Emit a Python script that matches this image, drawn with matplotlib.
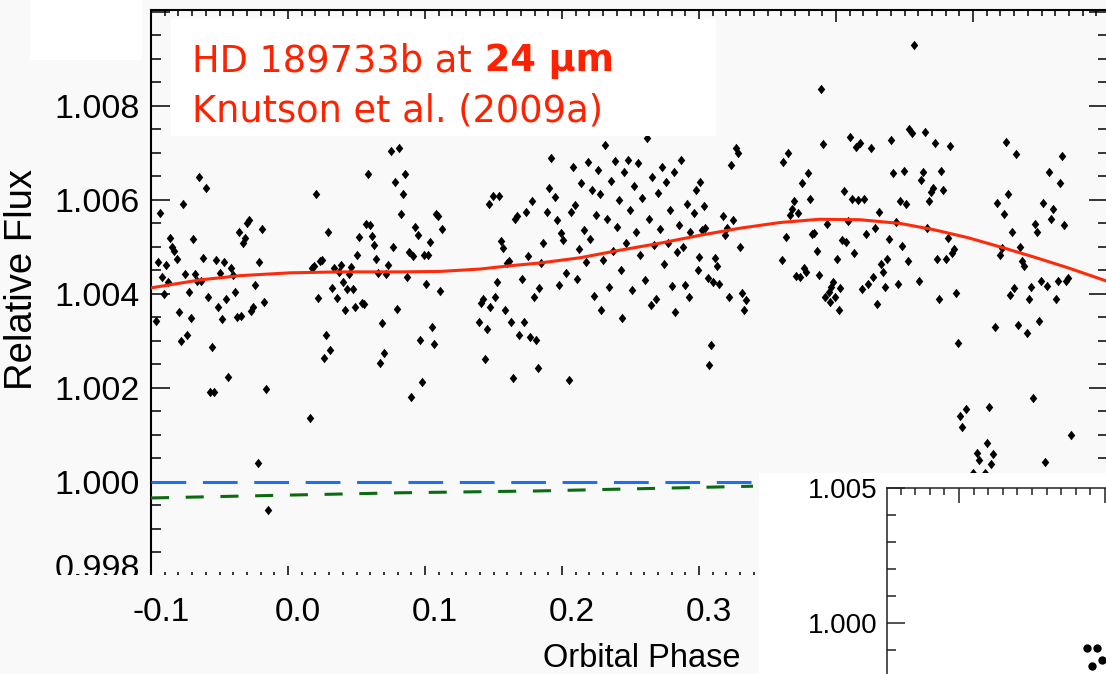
import matplotlib
matplotlib.use("Agg")
import numpy as np
import matplotlib.pyplot as plt
from matplotlib.patches import Rectangle
from matplotlib.ticker import MultipleLocator, FormatStrFormatter
import matplotlib.transforms as mtransforms

# ---------------- data (orbital phase, relative flux) ----------------
phase_a1 = [-0.0964,-0.0949,-0.0934,-0.0920,-0.0905,-0.0891,-0.0876,-0.0861,-0.0847,-0.0832,
            -0.0810,-0.0796,-0.0781,-0.0766,-0.0752,-0.0737,-0.0723,-0.0708,-0.0693,-0.0679,
            -0.0664,-0.0650,-0.0635,-0.0620,-0.0599,-0.0584,-0.0569,-0.0555,-0.0540,-0.0526,
            -0.0511,-0.0496,-0.0482,-0.0467,-0.0453,-0.0438,-0.0416,-0.0401,-0.0387,-0.0372,
            -0.0358,-0.0343,-0.0328,-0.0314,-0.0299,-0.0285,-0.0270,-0.0255,-0.0241,-0.0212,
            -0.0190,-0.0175,-0.0161,-0.0219,-0.0146]
flux_a1 = [1.00341,1.00467,1.00571,1.00435,1.00399,1.00461,1.00424,1.00518,1.00499,1.00490,
           1.00473,1.00361,1.00299,1.00590,1.00441,1.00312,1.00403,1.00348,1.00516,1.00441,
           1.00427,1.00648,1.00427,1.00476,1.00624,1.00393,1.00190,1.00286,1.00190,1.00471,
           1.00371,1.00444,1.00346,1.00467,1.00388,1.00222,1.00454,1.00439,1.00403,1.00350,
           1.00531,1.00352,1.00507,1.00518,1.00550,1.00556,1.00363,1.00371,1.00418,1.00467,
           1.00537,1.00382,1.00197,1.00039,0.99939]

phase_a2 = [0.0161,0.0175,0.0190,0.0204,0.0219,0.0234,0.0248,0.0263,0.0277,0.0292,
            0.0307,0.0321,0.0336,0.0358,0.0372,0.0387,0.0401,0.0416,0.0431,0.0445,
            0.0460,0.0474,0.0489,0.0504,0.0518,0.0540,0.0555,0.0569,0.0584,0.0599,
            0.0613,0.0628,0.0642,0.0657,0.0672,0.0686,0.0701,0.0715,0.0730,0.0752,
            0.0766,0.0781,0.0796,0.0810,0.0825,0.0839,0.0854,0.0869,0.0883,0.0898,
            0.0912,0.0927,0.0949,0.0964,0.0978,0.0993,0.1007,0.1022,0.1036,0.1051,
            0.1066,0.1080,0.1095,0.1109,0.1124]
flux_a2 = [1.00135,1.00454,1.00459,1.00612,1.00390,1.00469,1.00471,1.00263,1.00312,1.00531,
           1.00280,1.00412,1.00454,1.00390,1.00446,1.00461,1.00424,1.00365,1.00410,1.00441,
           1.00456,1.00410,1.00371,1.00482,1.00520,1.00380,1.00378,1.00548,1.00654,1.00546,
           1.00522,1.00503,1.00473,1.00444,1.00252,1.00337,1.00273,1.00441,1.00461,1.00703,
           1.00499,1.00637,1.00367,1.00710,1.00569,1.00612,1.00654,1.00435,1.00488,1.00180,
           1.00480,1.00541,1.00524,1.00301,1.00212,1.00482,1.00420,1.00482,1.00510,1.00329,
           1.00293,1.00569,1.00565,1.00405,1.00537]

phase_a3 = [0.1394,0.1409,0.1423,0.1438,0.1453,0.1467,0.1474,0.1496,0.1511,0.1526,
            0.1540,0.1555,0.1569,0.1584,0.1599,0.1613,0.1628,0.1642,0.1657,0.1672,
            0.1686,0.1708,0.1723,0.1737,0.1752,0.1766,0.1781,0.1796,0.1810,0.1825,
            0.1832]
flux_a3 = [1.00339,1.00380,1.00388,1.00261,1.00324,1.00590,1.00371,1.00607,1.00393,1.00424,
           1.00607,1.00512,1.00497,1.00365,1.00465,1.00469,1.00339,1.00220,1.00559,1.00565,
           1.00312,1.00431,1.00339,1.00573,1.00480,1.00307,1.00597,1.00393,1.00301,1.00241,
           1.00412]

phase_g = [0.1847,0.1861,0.1891,0.1905,0.1920,0.1949,0.1964,0.1978,0.1993,0.2007,
           0.2029,0.2051,0.2066,0.2080,0.2095,0.2109,0.2124,0.2139,0.2161,0.2175,
           0.2190,0.2204,0.2219,0.2234,0.2248,0.2263,0.2277,0.2285,0.2299,0.2314,
           0.2328,0.2343,0.2358,0.2372,0.2387,0.2401,0.2416,0.2431,0.2438,0.2453,
           0.2467,0.2482,0.2496,0.2511,0.2526,0.2540,0.2555,0.2569,0.2584,0.2606,
           0.2620,0.2635,0.2650,0.2657,0.2672,0.2686,0.2701,0.2715,0.2730,0.2745,
           0.2759,0.2774,0.2788,0.2803,0.2818,0.2825,0.2839,0.2854,0.2869,0.2883,
           0.2898,0.2912,0.2927,0.2934,0.2964,0.2978,0.2993]
flux_g = [1.00465,1.00507,1.00573,1.00624,1.00688,1.00605,1.00556,1.00418,1.00529,1.00514,
          1.00444,1.00216,1.00573,1.00669,1.00588,1.00431,1.00495,1.00635,1.00535,1.00467,
          1.00680,1.00516,1.00620,1.00395,1.00567,1.00663,1.00612,1.00365,1.00471,1.00716,
          1.00559,1.00414,1.00639,1.00490,1.00682,1.00541,1.00599,1.00450,1.00348,1.00659,
          1.00507,1.00684,1.00578,1.00407,1.00629,1.00531,1.00678,1.00482,1.00603,1.00429,
          1.00731,1.00559,1.00376,1.00648,1.00503,1.00388,1.00614,1.00537,1.00669,1.00463,
          1.00637,1.00507,1.00578,1.00416,1.00659,1.00361,1.00488,1.00546,1.00684,1.00499,
          1.00418,1.00590,1.00393,1.00531,1.00571,1.00620,1.00450]

phase_c = [0.3007,0.3036,0.3022,0.3044,0.2999,0.3066,0.3102,0.3117,0.3131,0.3146,
           0.3175,0.3190,0.3204,0.3219,0.3234,0.3248,0.3270,0.3285,0.3299,0.3314]
flux_c = [1.00637,1.00586,1.00535,1.00539,1.00478,1.00433,1.00424,1.00476,1.00459,1.00420,
          1.00565,1.00524,1.00539,1.00393,1.00673,1.00556,1.00710,1.00699,1.00499,1.00401]

phase_h = [0.3073,0.3088,0.3328,0.3343,0.3956,0.4022]
flux_h = [1.00248,1.00290,1.00365,1.00386,1.00382,1.00365]

phase_d = [0.3606,0.3613,0.3635,0.3650,0.3664,0.3679,0.3693,0.3708,0.3723,0.3737,
           0.3752,0.3766,0.3781,0.3796,0.3810,0.3825,0.3839,0.3861,0.3876,0.3891,
           0.3905,0.3920,0.3934,0.3949,0.3964,0.3978,0.3993,0.4007,0.4029,0.4044,
           0.4058,0.4073,0.4088,0.4102,0.4117,0.4131,0.4146,0.4161,0.4175,0.4190,
           0.4204,0.4219,0.4234,0.4255,0.4270,0.4285,0.4299,0.4314,0.4328,0.4343,
           0.4358,0.4372,0.4387,0.4401,0.4416,0.4438,0.4453,0.4467,0.4482,0.4496,
           0.4511,0.4526,0.4533,0.4555,0.4569,0.4606,0.4620,0.4635,0.4650,0.4664,
           0.4679,0.4693,0.4708,0.4723,0.4737,0.4752,0.4766,0.4781,0.4803,0.4818,
           0.4832,0.4847,0.4861,0.4876,0.4891,0.4905,0.4920,0.4949]
flux_d = [1.00471,1.00680,1.00520,1.00699,1.00567,1.00580,1.00597,1.00437,1.00571,1.00435,
          1.00635,1.00454,1.00446,1.00656,1.00601,1.00527,1.00529,1.00490,1.00439,1.00835,
          1.00718,1.00393,1.00548,1.00403,1.00414,1.00424,1.00393,1.00473,1.00412,1.00514,
          1.00618,1.00510,1.00554,1.00733,1.00601,1.00486,1.00712,1.00599,1.00720,1.00410,
          1.00601,1.00527,1.00420,1.00710,1.00435,1.00539,1.00378,1.00573,1.00463,1.00446,
          1.00414,1.00473,1.00516,1.00727,1.00656,1.00552,1.00420,1.00597,1.00501,1.00661,
          1.00590,1.00469,1.00750,1.00741,1.00929,1.00427,1.00641,1.00659,1.00744,1.00539,
          1.00597,1.00616,1.00624,1.00720,1.00473,1.00388,1.00661,1.00620,1.00473,1.00518,
          1.00714,1.00486,1.00495,1.00401,1.00295,1.00139,1.00116,1.00154]

phase_e = [0.5000,0.5029,0.5044,0.5088,0.5102,0.5117,0.5131,0.5146,0.5161,0.5328,
           0.5394,0.5438,0.5482,0.5526,0.5715]
flux_e = [1.00018,1.00061,1.00046,1.00018,1.00082,1.00159,1.00037,1.00059,1.00329,1.00333,
          1.00316,1.00178,1.00341,1.00041,1.00099]

phase_f = [0.5175,0.5197,0.5212,0.5226,0.5241,0.5255,0.5270,0.5285,0.5299,0.5314,
           0.5343,0.5358,0.5372,0.5409,0.5423,0.5453,0.5467,0.5496,0.5511,0.5540,
           0.5555,0.5569,0.5584,0.5606,0.5620,0.5635,0.5650,0.5664,0.5679,0.5693]
flux_f = [1.00593,1.00482,1.00497,1.00569,1.00722,1.00612,1.00397,1.00531,1.00412,1.00697,
          1.00499,1.00469,1.00459,1.00388,1.00414,1.00548,1.00531,1.00427,1.00593,1.00416,
          1.00659,1.00559,1.00580,1.00388,1.00427,1.00635,1.00693,1.00546,1.00427,1.00433]

# model phase curve (red), stellar flux (blue), green dashed component
curve_phase = [-0.100,-0.064,-0.035,0.0015,0.038,0.082,0.111,0.140,0.162,0.184,0.213,
               0.242,0.2715,0.301,0.330,0.359,0.388,0.4175,0.447,0.471,0.496,0.520,
               0.544,0.569,0.598]
curve_flux = [1.00412,1.00429,1.00438,1.00444,1.00446,1.00446,1.00447,1.00452,1.00459,
              1.00465,1.00476,1.00492,1.00507,1.00524,1.00539,1.00551,1.00558,1.00557,
              1.00549,1.00536,1.00519,1.00499,1.00478,1.00455,1.00426]
star_phase = [-0.100, 0.598]
star_flux = [1.00000, 1.00000]
green_phase = [-0.100, 0.0818, 0.1839, 0.3394]
green_flux = [0.99965, 0.99976, 0.99980, 0.99990]

# inset (zoom of eclipse)
inset_phase = [0.4877, 0.4945, 0.4911, 0.4979]
inset_flux = [0.99907, 0.99907, 0.99841, 0.99863]

x_ticklabels_fmt = "%.1f"
y_ticklabels_fmt = "%.3f"
title_line1 = "HD 189733b at"
title_bold = " 24 \u00b5m"
title_line2 = "Knutson et al. (2009a)"
xlabel = "Orbital Phase"
ylabel = "Relative Flux"

# ---------------- figure ----------------
plt.rcParams['font.family'] = ['Liberation Sans', 'DejaVu Sans']
plt.rcParams['lines.scale_dashes'] = False
W, H = 1106, 674
BG = '#f9f9f9'
fig = plt.figure(figsize=(W / 100, H / 100), dpi=100, facecolor=BG)


def fx(x):
    return x / W


def fy(y):
    return 1 - y / H


ax = fig.add_axes([fx(151), fy(578), fx(1108) - fx(151), fy(10) - fy(578)])
ax.set_facecolor(BG)
ax.set_xlim(-0.1, 0.5985)
ax.set_ylim(0.997947, 1.010032)

phase = np.concatenate([phase_a1, phase_a2, phase_a3, phase_g, phase_c, phase_h,
                        phase_d, phase_e, phase_f])
flux = np.concatenate([flux_a1, flux_a2, flux_a3, flux_g, flux_c, flux_h,
                       flux_d, flux_e, flux_f])
diamond = [(0, 1.25), (1, 0), (0, -1.25), (-1, 0), (0, 1.25)]
ax.plot(phase, flux, ls='none', marker=diamond, ms=6.8, mew=0, color='black', zorder=2)

ax.plot(star_phase, star_flux, color='#1f6ff5', lw=2.2, dashes=(25, 12), zorder=3)
ax.plot(green_phase, green_flux, color='#0b6b12', lw=2.2, dashes=(13, 12), zorder=3)
ax.plot(curve_phase, curve_flux, color='#ff2a0a', lw=2.2, zorder=4)

ax.xaxis.set_major_locator(MultipleLocator(0.1))
ax.xaxis.set_minor_locator(MultipleLocator(0.01))
ax.yaxis.set_major_locator(MultipleLocator(0.002))
ax.yaxis.set_minor_locator(MultipleLocator(0.0005))
ax.xaxis.set_major_formatter(FormatStrFormatter(x_ticklabels_fmt))
ax.yaxis.set_major_formatter(FormatStrFormatter(y_ticklabels_fmt))
ax.tick_params(which='both', direction='in', top=True, right=True, bottom=True, left=True,
               color='black', width=1.1, labelcolor='black')
ax.tick_params(axis='x', which='major', length=8.6, pad=13.5, labelsize=24)
ax.tick_params(axis='x', which='minor', length=4.5)
ax.tick_params(axis='y', which='major', length=13.5, pad=8, labelsize=24.5)
ax.tick_params(axis='y', which='minor', length=7)
ax.spines['bottom'].set_visible(False)
for s in ('top', 'left', 'right'):
    ax.spines[s].set_linewidth(1.5)

ax.set_xlabel(xlabel, fontsize=23.5, va='baseline')
ax.xaxis.set_label_coords(0.5125, -0.1567)
ax.set_ylabel(ylabel, fontsize=27.5, va='center')
ax.yaxis.set_label_coords(-0.1348, 0.5264)

# white boxes from the slide
fig.add_artist(Rectangle((fx(30), fy(60)), fx(142) - fx(30), fy(0) - fy(60),
                         transform=fig.transFigure, facecolor='white', edgecolor='none', zorder=1))
fig.add_artist(Rectangle((fx(171), fy(136)), fx(716) - fx(171), fy(19) - fy(136),
                         transform=fig.transFigure, facecolor='white', edgecolor='none', zorder=1))
fig.add_artist(Rectangle((0, fy(594)), fx(760), fy(575) - fy(594),
                         transform=fig.transFigure, facecolor=BG, edgecolor='none', zorder=1))
fig.add_artist(Rectangle((fx(759), 0), 1 - fx(759), fy(473),
                         transform=fig.transFigure, facecolor='white', edgecolor='none', zorder=2))

# title text
tfam = ['DejaVu Sans']
TSIZE = 26.5
RED = '#ff2200'
t1 = fig.text(fx(192), fy(71), title_line1, color=RED, fontsize=TSIZE, family=tfam,
              va='baseline', ha='left', zorder=5)
fig.text(fx(192), fy(121), title_line2, color=RED, fontsize=TSIZE, family=tfam,
         va='baseline', ha='left', zorder=5)

# inset axes (extends past the lower and right edges of the slide)
ax2 = fig.add_axes([fx(887), fy(740), fx(1250) - fx(887), fy(488) - fy(740)], zorder=3)
ax2.set_facecolor('white')
ax2.set_xlim(0.3507, 0.5993)
ax2.set_ylim(0.995667, 1.005)
ax2.plot(inset_phase, inset_flux, ls='none', marker='o', ms=6, mew=0, color='black')
ax2.xaxis.set_major_locator(MultipleLocator(0.1))
ax2.xaxis.set_minor_locator(MultipleLocator(0.01))
ax2.yaxis.set_major_locator(MultipleLocator(0.005))
ax2.yaxis.set_minor_locator(MultipleLocator(0.001))
ax2.yaxis.set_major_formatter(FormatStrFormatter(y_ticklabels_fmt))
ax2.tick_params(which='both', direction='in', top=True, bottom=False, left=True, right=False,
                labelbottom=False, color='#222222', width=1.1)
ax2.tick_params(axis='x', which='major', length=11)
ax2.tick_params(axis='x', which='minor', length=5)
ax2.tick_params(axis='y', which='major', length=13, pad=7, labelsize=20)
ax2.tick_params(axis='y', which='minor', length=6.5)
for s in ('bottom', 'right'):
    ax2.spines[s].set_visible(False)
for s in ('top', 'left'):
    ax2.spines[s].set_linewidth(1.1)
    ax2.spines[s].set_color('#222222')

fig.canvas.draw()
renderer = fig.canvas.get_renderer()
bb = t1.get_window_extent(renderer)
fig.text(bb.x1 / W, fy(71), title_bold, color=RED, fontsize=TSIZE, family=tfam,
         fontweight='bold', va='baseline', ha='left', zorder=5)

off = mtransforms.ScaledTranslation(10 / 100, 0, fig.dpi_scale_trans)
for t in ax.xaxis.get_major_ticks():
    t.label1.set_transform(t.label1.get_transform() + off)
    if t.get_loc() > 0.35:
        t.label1.set_visible(False)   # hidden under the inset panel in the slide
up = mtransforms.ScaledTranslation(0, 10 / 100, fig.dpi_scale_trans)
for t in ax.yaxis.get_major_ticks():
    if abs(t.get_loc() - 0.998) < 1e-6:
        t.label1.set_transform(t.label1.get_transform() + up)
    if t.get_loc() > 1.0095:
        t.label1.set_visible(False)   # covered by the white slide box

fig.savefig('out.png', dpi=100, facecolor=BG)
